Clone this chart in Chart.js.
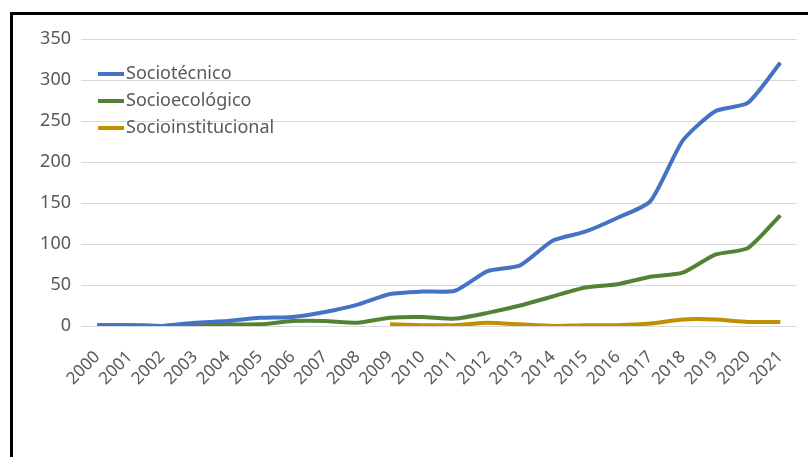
<!DOCTYPE html>
<html>
<head>
<meta charset="utf-8">
<script src="https://cdn.jsdelivr.net/npm/chart.js@4.4.1/dist/chart.umd.min.js"></script>
<style>
    html, body { margin: 0; padding: 0; background: #fff; }
    #frame {
        position: absolute;
        left: 10px;
        top: 12px;
        width: 798px;
        height: 445px;
        border-top: 3px solid #000;
        border-left: 3px solid #000;
    }
</style>
</head>
<body>
<div id="frame"><canvas id="chart" width="795" height="442"></canvas></div>
<script>
const years = ['2000', '2001', '2002', '2003', '2004', '2005', '2006', '2007', '2008', '2009', '2010',
    '2011', '2012', '2013', '2014', '2015', '2016', '2017', '2018', '2019', '2020', '2021'];

const sociotecnico = [1, 1, 0, 4, 6, 10, 11, 17, 26, 39, 42, 43, 67, 74, 104, 115, 132, 152, 226, 262, 272, 321];
const socioecologico = [1, 1, 0, 2, 2, 2, 6, 6, 4, 10, 11, 9, 16, 25, 36, 47, 51, 60, 65, 87, 95, 135];
const socioinstitucional = [null, null, null, null, null, null, null, null, null, 2, 1, 1, 4, 2, 0, 1, 1, 3, 8, 8, 5, 5];

const yTicks = [0, 50, 100, 150, 200, 250, 300, 350];

const textColor = '#595959';
const fontFamily = '"Noto Sans", "Open Sans", sans-serif';

const insideLegend = {
    id: 'insideLegend',
    afterDraw(chart) {
        const ctx = chart.ctx;
        const area = chart.chartArea;
        ctx.save();
        ctx.font = `18px ${fontFamily}`;
        ctx.textBaseline = 'middle';
        chart.data.datasets.forEach((ds, i) => {
            const y = area.top + 35 + i * 27;
            const x = area.left + 17;
            ctx.strokeStyle = ds.borderColor;
            ctx.lineWidth = 4;
            ctx.beginPath();
            ctx.moveTo(x, y);
            ctx.lineTo(x + 26, y);
            ctx.stroke();
            ctx.fillStyle = textColor;
            ctx.fillText(ds.label, x + 28, y);
        });
        ctx.restore();
    },
};

new Chart(document.getElementById('chart'), {
    type: 'line',
    data: {
        labels: years,
        datasets: [
            { label: 'Sociotécnico', data: sociotecnico, borderColor: '#4472C4' },
            { label: 'Socioecológico', data: socioecologico, borderColor: '#548235' },
            { label: 'Socioinstitucional', data: socioinstitucional, borderColor: '#BF9000' },
        ],
    },
    options: {
        responsive: false,
        animation: false,
        layout: { padding: { top: 24, right: 11, left: 0, bottom: 0 } },
        elements: {
            line: { borderWidth: 4, tension: 0.2 },
            point: { radius: 0 },
        },
        plugins: {
            legend: { display: false },
            tooltip: { enabled: false },
        },
        scales: {
            x: {
                offset: true,
                grid: { display: false },
                border: { display: false },
                ticks: {
                    color: textColor,
                    font: { family: fontFamily, size: 17 },
                    maxRotation: 45,
                    minRotation: 45,
                    autoSkip: false,
                    padding: 13,
                },
                afterFit(scale) { scale.height = 131; },
            },
            y: {
                min: 0,
                max: 350,
                afterBuildTicks(scale) { scale.ticks = yTicks.map(v => ({ value: v })); },
                grid: { color: '#d9d9d9', lineWidth: 1, drawTicks: false },
                border: { display: false },
                ticks: {
                    color: textColor,
                    font: { family: fontFamily, size: 18 },
                    padding: 10,
                },
                afterFit(scale) { scale.width = 68; },
            },
        },
    },
    plugins: [insideLegend],
});
</script>
</body>
</html>
